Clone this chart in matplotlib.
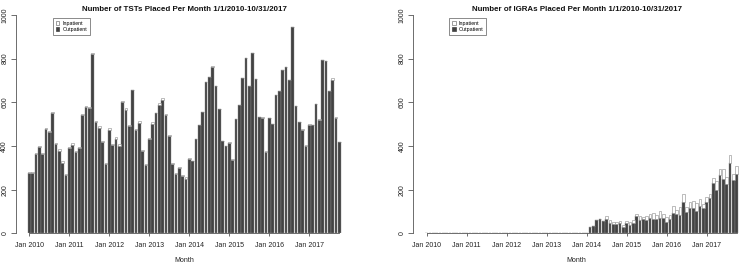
import numpy as np
import matplotlib.pyplot as plt
from matplotlib.patches import Patch

plt.rcParams['font.family'] = ['Liberation Sans', 'DejaVu Sans']

years = ['Jan 2010', 'Jan 2011', 'Jan 2012', 'Jan 2013', 'Jan 2014', 'Jan 2015', 'Jan 2016', 'Jan 2017']

# TST totals per month, Jan 2010 - Oct 2017
tst_total = [280, 283, 367, 400, 370, 482, 470, 557, 415, 385, 330, 272,
             397, 413, 378, 397, 547, 585, 578, 826, 513, 490, 422, 321,
             481, 410, 440, 407, 605, 573, 495, 658, 476, 513, 381, 316,
             437, 508, 553, 595, 618, 547, 450, 321, 275, 305, 268, 256,
             345, 333, 432, 497, 557, 694, 718, 765, 677, 571, 425, 401,
             416, 339, 525, 590, 713, 803, 675, 827, 708, 535, 531, 375,
             530, 500, 635, 652, 750, 763, 702, 946, 585, 512, 477, 403,
             500, 498, 593, 522, 795, 790, 653, 712, 532, 420]
tst_inpatient = [6, 6, 4, 5, 6, 5, 6, 8, 6, 6, 7, 3,
                 7, 7, 5, 5, 4, 7, 6, 6, 4, 6, 5, 5,
                 6, 4, 6, 5, 3, 6, 3, 3, 5, 6, 4, 5,
                 6, 6, 3, 6, 6, 4, 5, 3, 4, 6, 5, 5,
                 6, 4, 2, 2, 2, 2, 2, 2, 2, 2, 2, 2,
                 2, 2, 2, 2, 2, 2, 2, 2, 2, 2, 2, 2,
                 1, 1, 1, 1, 1, 1, 1, 1, 2, 2, 2, 2,
                 2, 2, 2, 2, 2, 2, 2, 9, 2, 2]

# IGRA outpatient / inpatient per month
igra_outpatient = [0] * 16 + [1] + [0] * 7 + [1] + [0] * 6 + [1, 2, 3, 2] + [0] * 14 + \
    [30, 32, 62, 65, 55, 65, 45, 42, 42, 45, 30, 45, 40, 48, 78,
     62, 65, 60, 70, 65, 65, 72, 70, 52, 65, 95, 90, 85, 145, 98,
     118, 118, 100, 125, 115, 145, 160, 230, 200, 268, 250, 225, 320, 243, 272]
igra_inpatient = [0] * 49 + \
    [0, 0, 1, 0, 3, 15, 15, 8, 8, 12, 10, 13, 12, 12, 9,
     18, 10, 20, 20, 27, 20, 28, 20, 23, 20, 30, 18, 35, 33, 24,
     25, 30, 40, 33, 20, 20, 20, 25, 40, 27, 45, 35, 37, 27, 36]

tst_out = np.array(tst_total) - np.array(tst_inpatient)
x = np.arange(len(tst_total))

W, H = 740, 265
fig = plt.figure(figsize=(W / 100, H / 100), dpi=100)

def add_ax(left, right, top, bottom):
    return fig.add_axes([left / W, 1 - bottom / H, (right - left) / W, (bottom - top) / H])

out_col = '#424242'
in_col = 'white'
edge = '#8a8a8a'
axcol = '#555555'

panels = [
    (add_ax(16, 352, 15, 233.3), (-4.0, 96.8), tst_out, tst_inpatient,
     'Number of TSTs Placed Per Month 1/1/2010-10/31/2017'),
    (add_ax(413.3, 740, 15, 233.3), (-4.0, 94.0), igra_outpatient, igra_inpatient,
     'Number of IGRAs Placed Per Month 1/1/2010-10/31/2017'),
]

for ax, xl, outp, inp, title in panels:
    ax.bar(x, outp, width=0.78, color=out_col, edgecolor=edge, linewidth=0.3)
    ax.bar(x, inp, bottom=outp, width=0.78, color=in_col, edgecolor=edge, linewidth=0.4)
    ax.set_xlim(*xl)
    ax.set_ylim(0, 1000)
    for s in ['top', 'right']:
        ax.spines[s].set_visible(False)
    ax.spines['left'].set_color(axcol)
    ax.spines['bottom'].set_color(axcol)
    ax.spines['left'].set_linewidth(0.6)
    ax.spines['bottom'].set_linewidth(0.6)
    ax.spines['bottom'].set_bounds(0, 93)
    ax.set_yticks(range(0, 1001, 200))
    ax.set_yticklabels([str(v) for v in range(0, 1001, 200)], rotation=90, va='center')
    ax.set_xticks(range(0, 96, 12))
    ax.set_xticklabels(years)
    ax.tick_params(axis='y', length=3.5, width=0.6, color=axcol, labelsize=5, pad=2, labelcolor='#222222')
    ax.tick_params(axis='x', length=2.5, width=0.6, color=axcol, labelsize=5, pad=4, labelcolor='#222222')
    ax.set_title(title, fontsize=5.7, fontweight='bold', pad=3, color='#111111')
    ax.set_xlabel('Month', fontsize=5, labelpad=5.5, color='#222222')
    handles = [Patch(facecolor=in_col, edgecolor='#777777', linewidth=0.5),
               Patch(facecolor=out_col, edgecolor=out_col, linewidth=0.5)]
    leg = ax.legend(handles, ['Inpatient', 'Outpatient'], loc='upper left',
                    bbox_to_anchor=(0.11, 0.985), fontsize=3.8, frameon=True,
                    fancybox=False, handlelength=0.7, handleheight=0.7,
                    handletextpad=0.6, borderpad=0.5, labelspacing=0.2,
                    borderaxespad=0)
    leg.get_frame().set_edgecolor('#333333')
    leg.get_frame().set_linewidth(0.5)

fig.savefig('out.png', dpi=100)
